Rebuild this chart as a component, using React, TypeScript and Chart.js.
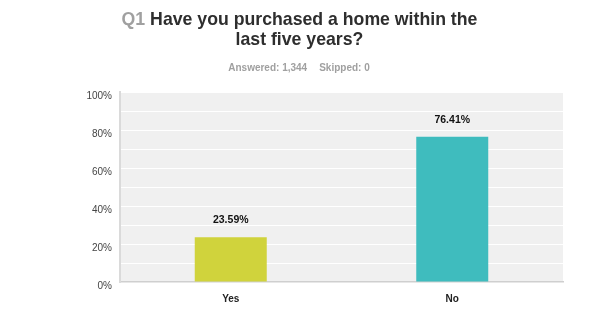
import React, { useEffect, useRef } from "react";
import { Chart, registerables } from "chart.js";

Chart.register(...registerables);

const categories = ["Yes", "No"];
const responses = [23.59, 76.41];
const barColors = ["#d0d33c", "#3fbcbe"];
const yTicks = [0, 20, 40, 60, 80, 100];
const questionNo = "Q1";
const questionLine1 = "Have you purchased a home within the";
const questionLine2 = "last five years?";
const answeredText = "Answered: 1,344";
const skippedText = "Skipped: 0";

const FONT = "'Liberation Sans', Arial, Helvetica, sans-serif";

const bgPlugin = {
  id: "plotBg",
  beforeDraw(chart: any) {
    const { ctx, chartArea } = chart;
    ctx.save();
    ctx.fillStyle = "#f0f0f0";
    ctx.fillRect(chartArea.left, chartArea.top, chartArea.right - chartArea.left, chartArea.bottom - chartArea.top);
    ctx.restore();
  },
};

const valueLabelPlugin = {
  id: "valueLabels",
  afterDatasetsDraw(chart: any) {
    const { ctx } = chart;
    const meta = chart.getDatasetMeta(0);
    ctx.save();
    ctx.fillStyle = "#111";
    ctx.font = `bold 10.5px ${FONT}`;
    ctx.textAlign = "center";
    ctx.textBaseline = "middle";
    meta.data.forEach((el: any, i: number) => {
      const v = chart.data.datasets[0].data[i];
      ctx.fillText(v.toFixed(2) + "%", el.x, el.y - 17);
    });
    ctx.restore();
  },
};

export default function App() {
  const ref = useRef<HTMLCanvasElement>(null);
  useEffect(() => {
    if (!ref.current) return;
    const chart = new Chart(ref.current, {
      type: "bar",
      data: {
        labels: categories,
        datasets: [
          {
            data: responses,
            backgroundColor: barColors,
            borderWidth: 0,
            barPercentage: 0.325,
            categoryPercentage: 1,
          },
        ],
      },
      options: {
        animation: false,
        responsive: false,
        layout: { padding: { top: 92, right: 36, left: 0, bottom: 0 } },
        plugins: { legend: { display: false }, tooltip: { enabled: false }, title: { display: false } },
        scales: {
          x: {
            grid: { display: false, drawTicks: false },
            border: { color: "#cfcfcf", width: 1.5 },
            ticks: { font: { family: FONT, size: 10, weight: "bold" }, color: "#222", padding: 11 },
            afterFit(scale: any) {
              scale.height = 43;
            },
          },
          y: {
            min: 0,
            max: 100,
            grid: { color: "#ffffff", lineWidth: 1, drawTicks: false },
            border: { color: "#dadada", width: 2 },
            ticks: {
              stepSize: 10,
              padding: 8,
              labelOffset: 4,
              font: { family: FONT, size: 10 },
              color: "#444",
              callback: (v: any) => (yTicks.includes(Number(v)) ? v + "%" : ""),
            },
            afterFit(scale: any) {
              scale.width = 120;
            },
          },
        },
      },
      plugins: [bgPlugin, valueLabelPlugin],
    });
    return () => chart.destroy();
  }, []);

  return (
    <div style={{ position: "absolute", left: 0, top: 0, width: 599, height: 325, fontFamily: FONT }}>
      <canvas ref={ref} width={599} height={325} style={{ position: "absolute", left: 0, top: 0, display: "block" }} />
      <div
        style={{
          position: "absolute",
          left: 0,
          top: 9,
          width: 599,
          textAlign: "center",
          fontSize: 17.7,
          lineHeight: "20px",
          fontWeight: "bold",
          color: "#2e2e2e",
        }}
      >
        <span style={{ color: "#a0a0a0" }}>{questionNo}</span> {questionLine1}
        <br />
        {questionLine2}
      </div>
      <div
        style={{
          position: "absolute",
          left: 0,
          top: 62,
          width: 598,
          textAlign: "center",
          fontSize: 10,
          lineHeight: "12px",
          fontWeight: "bold",
          color: "#a0a0a0",
        }}
      >
        {answeredText}
        <span style={{ display: "inline-block", width: 12 }} />
        {skippedText}
      </div>
    </div>
  );
}
